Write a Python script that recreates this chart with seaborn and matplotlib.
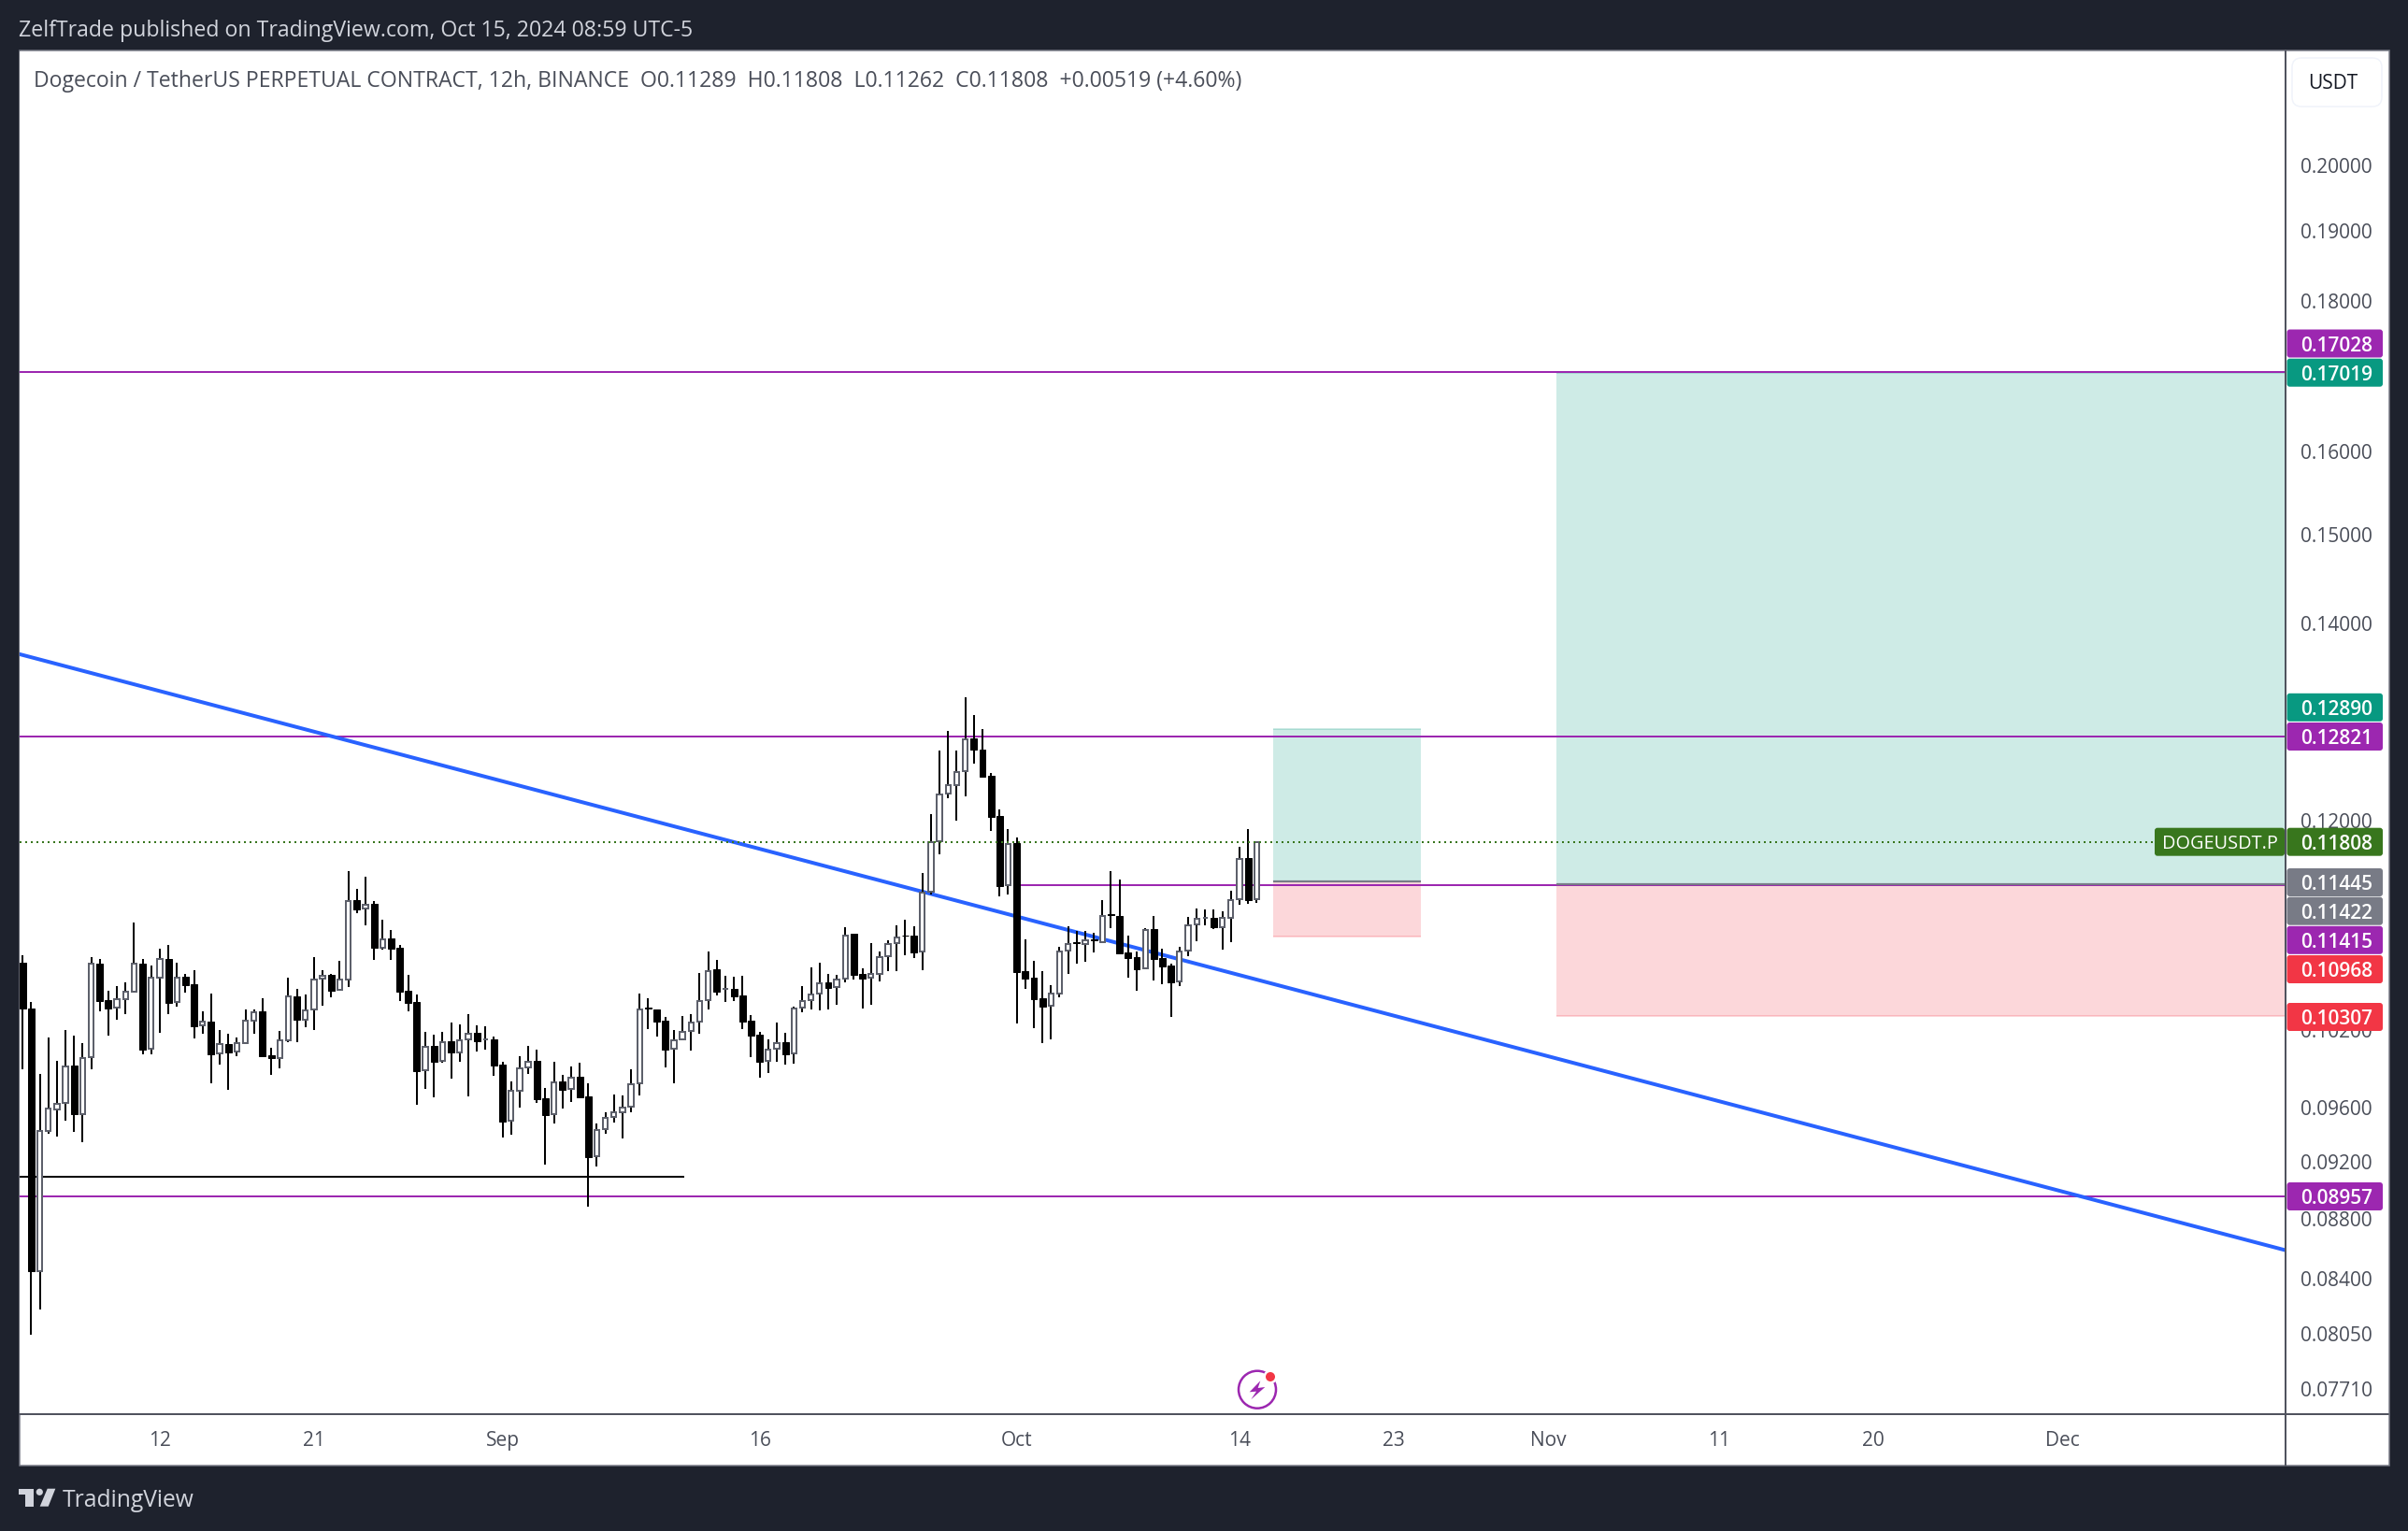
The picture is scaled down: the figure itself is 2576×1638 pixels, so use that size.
import matplotlib
matplotlib.use('Agg')
import matplotlib.pyplot as plt
import seaborn as sns
import pandas as pd
import numpy as np
from matplotlib.patches import Rectangle, Circle, Polygon, FancyBboxPatch
from matplotlib.lines import Line2D
from matplotlib.transforms import Affine2D
from matplotlib.ticker import FixedLocator, NullLocator

# ---- candle data (12h bars, units of 1e-5 USDT) ----
opens = [10746,10367,8448,9423,9584,9634,9919,9547,9981,10738,10435,10375,10446,10503,10738,10048,10624,10777,10421,10629,
10569,10233,10262,10012,10085,10025,10090,10270,10346,9996,9976,10119,10467,10278,10359,10615,10646,10522,10604,11285,
11208,11249,10875,10952,10872,10514,10421,9880,10069,9952,10108,10023,10123,10175,10123,10121,9926,9499,9723,9902,
9955,9669,9550,9794,9737,9832,9683,9240,9437,9527,9562,9603,9782,10374,10359,10269,10050,10123,10187,10262,
10435,10691,10526,10529,10476,10272,10160,9952,10050,10101,10011,10374,10435,10488,10583,10542,10611,10989,10652,10621,
10650,10798,10909,10978,10975,10838,11355,11810,12257,12341,12473,12799,12687,12431,12045,11413,11796,10673,10619,10450,
10389,10493,10846,10917,10906,10943,10917,11158,11142,10832,10793,10699,11029,10785,10723,10588,10846,11069,11126,11126,
11050,11126,11292,11656,11289]
highs = [10808,10421,9854,10135,9955,10196,10154,10093,10794,10777,10514,10552,10582,11087,10777,10724,10864,10895,10746,10649,
10685,10346,10492,10196,10167,10138,10362,10359,10454,10056,10191,10621,10530,10484,10794,10685,10651,10763,11540,11382,
11492,11273,11113,11023,10895,10646,10481,10183,10159,10183,10257,10242,10324,10234,10227,10145,9945,9797,9991,10071,
10042,9747,9948,9847,9911,9940,9780,9481,9564,9697,9690,9890,10491,10453,10362,10299,10197,10309,10324,10660,
10840,10769,10637,10629,10637,10316,10182,10123,10257,10175,10382,10552,10707,10746,10652,10642,11045,10989,10699,10912,
10838,10935,11064,11112,11056,11524,12065,12678,12873,12678,13215,13034,12892,12458,12109,11926,11848,10943,10762,10676,
10560,10877,11056,11015,11015,10999,11283,11541,11466,10975,10840,11037,11145,10864,10738,10880,11136,11210,11201,11201,
11185,11366,11762,11926,11808]
lows = [9893,8041,8199,9404,9386,9504,9421,9345,9893,10348,10156,10281,10327,10495,10002,10009,10177,10327,10386,10497,
10132,10169,9785,9929,9735,9994,10083,10169,9983,9849,9898,10104,10104,10222,10199,10394,10462,10516,10547,11165,
11067,10771,10858,10771,10432,10343,9621,9742,9679,9939,9820,9950,9685,10028,10045,9842,9380,9400,9601,9856,
9636,9184,9483,9594,9643,9676,8888,9171,9407,9490,9373,9566,9692,10207,10148,9907,9780,10121,10037,10170,
10364,10478,10425,10432,10207,9986,9828,9863,9950,9928,9935,10342,10362,10357,10362,10399,10585,10609,10372,10402,
10593,10678,10678,10809,10788,10686,11330,11696,12216,12007,12236,12552,12422,11908,11316,11333,10252,10532,10214,10096,
10125,10463,10655,10741,10756,10835,10909,11042,10819,10624,10516,10694,10601,10570,10304,10555,10804,10930,11066,11034,
10859,10922,11245,11253,11262]
closes = [10367,8448,9423,9589,9629,9913,9547,9978,10735,10432,10372,10443,10503,10735,10043,10624,10774,10416,10624,10560,
10230,10262,10009,10083,10020,10090,10268,10340,9991,9973,10117,10465,10278,10356,10602,10640,10516,10602,11279,11203,
11244,10872,10946,10867,10508,10416,9875,10067,9950,10104,10023,10118,10170,10111,10125,9921,9495,9723,9899,9950,
9664,9545,9792,9735,9828,9678,9238,9435,9525,9564,9601,9778,10364,10367,10267,10045,10118,10185,10259,10432,
10678,10506,10532,10468,10267,10153,9948,10045,10096,10008,10372,10432,10486,10578,10539,10609,10978,10647,10616,10655,
10796,10906,10962,10973,10832,11352,11807,12254,12344,12470,12792,12687,12422,12039,11407,11790,10668,10614,10445,10387,
10493,10843,10906,10909,10933,10933,11147,11150,10827,10788,10694,11026,10780,10717,10585,10843,11066,11123,11131,11050,
11128,11286,11654,11281,11808]

price_ticks = [0.2, 0.19, 0.18, 0.16, 0.15, 0.14, 0.12, 0.102, 0.096, 0.092, 0.088, 0.084, 0.0805, 0.0771]
date_labels = ['12', '21', 'Sep', '16', 'Oct', '14', '23', 'Nov', '11', '20', 'Dec']
date_bars = [16, 34, 56, 86, 116, 142, 160, 178, 198, 216, 238]

levels_full = [0.17028, 0.12821, 0.08957]
level_mid = 0.11415
level_mid_start = 116
support = 0.09095
support_end = 77.2
last_price = 0.11808
trend_bars = [-0.36, 264.07]
trend_prices = [0.13666, 0.08589]

small_pos = dict(x0=145.9, x1=163.15, target=0.12890, entry=0.11445, stop=0.10968)
big_pos = dict(x0=178.97, x1=264.07, target=0.17019, entry=0.11422, stop=0.10307)

label_texts = [0.17028, 0.17019, 0.12890, 0.12821, 0.11808, 0.11445, 0.11422, 0.11415, 0.10968, 0.10307, 0.08957]
label_kinds = ['p', 't', 't', 'p', 'g', 'n', 'n', 'p', 'r', 'r', 'p']
label_rows = [367.5, 398.7, 756.8, 788, 900.7, 944, 974.7, 1005.8, 1037, 1088, 1280]

header = 'ZelfTrade published on TradingView.com, Oct 15, 2024 08:59 UTC-5'
title = 'Dogecoin / TetherUS PERPETUAL CONTRACT, 12h, BINANCE  O0.11289  H0.11808  L0.11262  C0.11808  +0.00519 (+4.60%)'

# ---- style ----
DARK = '#1e222d'; AX = '#50535e'; BORDER = '#787b86'; TXT = '#4a4e59'
PURPLE = '#9c27b0'; TEAL = '#089981'; GREEN = '#38761d'; RED = '#f23645'; GREY = '#787b86'; BLUE = '#2962ff'
KIND = dict(p=PURPLE, t=TEAL, g=GREEN, n=GREY, r=RED)
px = 0.72

sns.set_theme(style='white')
plt.rcParams['font.family'] = ['Open Sans', 'DejaVu Sans']

W, H = 2576, 1638
fig = plt.figure(figsize=(W/100, H/100), dpi=100, facecolor=DARK)
P = Affine2D().scale(1, -1).translate(0, H)   # figure pixels, origin at top-left

fig.add_artist(Rectangle((20.5, 54), 2535, 1514, transform=P, fc='white', ec=BORDER, lw=1.5*px, zorder=-1))

L, R, T, B = 21, 2445, 55, 1513
ax = fig.add_axes([L/W, 1-B/H, (R-L)/W, (B-T)/H], facecolor='white')
ax.set_yscale('log')

df = pd.DataFrame({'bar': np.arange(len(opens)),
                   'o': np.array(opens)/1e5, 'h': np.array(highs)/1e5,
                   'l': np.array(lows)/1e5, 'c': np.array(closes)/1e5})
df['top'] = df[['o', 'c']].max(axis=1)
df['bot'] = df[['o', 'c']].min(axis=1)
up = df['c'] >= df['o']

# position boxes
def position(p):
    ax.fill_between([p['x0'], p['x1']], p['entry'], p['target'], color='#ceebe6', lw=0, zorder=1)
    ax.fill_between([p['x0'], p['x1']], p['stop'], p['entry'], color='#fcd7da', lw=0, zorder=1)
    ax.hlines(p['target'], p['x0'], p['x1'], color=TEAL, alpha=.2, lw=2*px, zorder=1.1)
    ax.hlines(p['stop'], p['x0'], p['x1'], color=RED, alpha=.2, lw=2*px, zorder=1.1)
position(small_pos)
position(big_pos)

xmin, xmax = -0.36, 264.07
for v in levels_full:
    ax.hlines(v, xmin, xmax, color=PURPLE, lw=2*px, zorder=2)
ax.hlines(level_mid, level_mid_start, xmax, color=PURPLE, lw=2*px, zorder=2)
for p in (small_pos, big_pos):
    ax.hlines(p['entry'], p['x0'], p['x1'], color=GREY, lw=2.2*px, zorder=2.1)
ax.hlines(support, xmin, support_end, color='black', lw=2*px, zorder=2)

sns.lineplot(x=trend_bars, y=trend_prices, color=BLUE, lw=4*px, estimator=None, ax=ax, zorder=3)

# wicks
wick = pd.concat([df[['bar']].assign(price=df['h']), df[['bar']].assign(price=df['l'])])
sns.lineplot(data=wick, x='bar', y='price', units='bar', estimator=None, color='black',
             lw=2*px, ax=ax, zorder=4, solid_capstyle='butt')

# bodies
ax.bar(df['bar'][~up], (df['top']-df['bot'])[~up], bottom=df['bot'][~up], width=.76,
       color='black', edgecolor='black', lw=1*px, zorder=5)
ax.bar(df['bar'][up], (df['top']-df['bot'])[up], bottom=df['bot'][up], width=.58,
       color='white', edgecolor='#5d606b', lw=2*px, zorder=5)

ax.hlines(last_price, xmin, xmax, color=GREEN, lw=2*px, linestyles=(0, (1, 2)), zorder=6)

ax.set_xlim(xmin, xmax)
ax.set_ylim(0.07559, 0.21859)
ax.set_xlabel(''); ax.set_ylabel('')

ax.yaxis.tick_right()
ax.yaxis.set_major_locator(FixedLocator(price_ticks))
ax.yaxis.set_minor_locator(NullLocator())
ax.set_yticklabels([f'{v:.5f}' for v in price_ticks])
ax.tick_params(axis='y', which='major', length=0, pad=11.5, labelsize=15, labelcolor=TXT)
ax.set_xticks(date_bars, date_labels)
ax.tick_params(axis='x', which='major', length=0, pad=13, labelsize=15, labelcolor=TXT)
for s in ('top', 'left'):
    ax.spines[s].set_visible(False)
for s in ('right', 'bottom'):
    ax.spines[s].set_color(AX); ax.spines[s].set_linewidth(2*px)
ax.grid(False)

# axis lines continuing into the scale areas
fig.add_artist(Line2D([R, R], [T, 1568], transform=P, color=AX, lw=2*px, zorder=1))
fig.add_artist(Line2D([L, 2555], [B, B], transform=P, color=AX, lw=2*px, zorder=1))

# price labels
def box(x0, x1, yc, color, h=30, r=3):
    fig.add_artist(FancyBboxPatch((x0+r, yc-h/2+r), x1-x0-2*r, h-2*r, boxstyle=f'round,pad={r},rounding_size={r}',
                                  transform=P, fc=color, ec='none', lw=0, zorder=2))
for v, k, y in zip(label_texts, label_kinds, label_rows):
    box(2446.5, 2549, y, KIND[k])
    fig.text(2500/W, 1-y/H, f'{v:.5f}', color='white', fontsize=15, fontweight='semibold',
             ha='center', va='center_baseline', zorder=3)
box(2305, 2444, 900.7, GREEN)
fig.text(2375/W, 1-900.7/H, 'DOGEUSDT.P', color='white', fontsize=14.3, ha='center', va='center_baseline', zorder=3)

# currency button
fig.add_artist(FancyBboxPatch((2462, 72), 76, 32, boxstyle='round,pad=10,rounding_size=10', transform=P,
                              fc='white', ec='#f0f3fa', lw=1.5*px, zorder=2))
fig.text(2495.7/W, 1-87/H, 'USDT', color='#131722', fontsize=15, ha='center', va='center_baseline', zorder=3)

# texts
fig.text(20/W, 1-30/H, header, color='#d1d4dc', fontsize=16.7, ha='left', va='center_baseline')
fig.text(36/W, 1-84/H, title, color=TXT, fontsize=16.6, ha='left', va='center_baseline', zorder=3)
fig.text(67/W, 1-1603/H, 'TradingView', color='#d1d4dc', fontsize=17.7, ha='left', va='center_baseline')

# logo
LOGO = '#d1d4dc'
fig.add_artist(Polygon([(20, 1592.7), (35.7, 1592.7), (35.7, 1611.7), (26.7, 1611.7), (26.7, 1599.3), (20, 1599.3)],
                       transform=P, fc=LOGO, ec='none', zorder=2))
fig.add_artist(Circle((42.3, 1596.3), 3.6, transform=P, fc=LOGO, ec='none', zorder=2))
fig.add_artist(Polygon([(50.7, 1592.7), (59.3, 1592.7), (51.7, 1611.7), (42.7, 1611.7)],
                       transform=P, fc=LOGO, ec='none', zorder=2))

# lightning icon
fig.add_artist(Circle((1345, 1486.7), 20, transform=P, fc='white', ec=PURPLE, lw=2.5*px, zorder=2))
fig.add_artist(Polygon([(1348.3, 1477.3), (1336.7, 1489.3), (1344, 1488.7), (1338.3, 1497.3), (1353.3, 1484), (1345.7, 1485)],
                       transform=P, fc=PURPLE, ec='none', zorder=2.1))
fig.add_artist(Circle((1359, 1473), 7.5, transform=P, fc='white', ec='none', zorder=2.1))
fig.add_artist(Circle((1359, 1473), 5, transform=P, fc=RED, ec='none', zorder=2.2))

fig.savefig('out.png', dpi=100, facecolor=DARK)
